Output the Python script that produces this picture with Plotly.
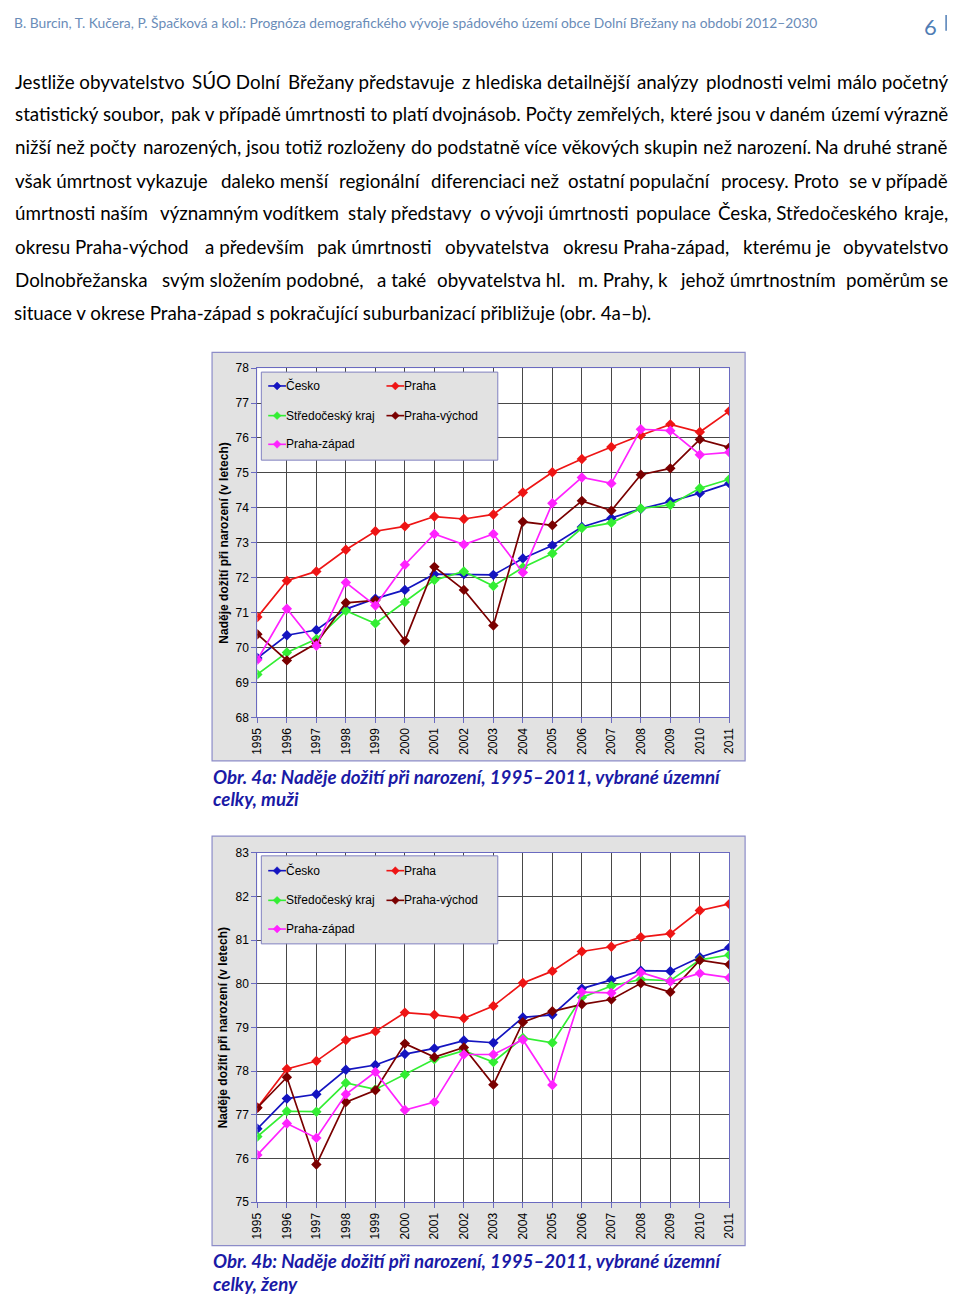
import unicodedata
import plotly.graph_objects as go

# page body has an 8px margin, so the figure is 8px smaller on each axis
OFF = 8
W, H = 960 - OFF, 1306 - OFF

years = list(range(1995, 2012))

# naděje dožití při narození - muži
cesko_m = [69.70, 70.35, 70.50, 71.10, 71.40, 71.65, 72.10, 72.10, 72.08, 72.55, 72.92, 73.45, 73.70, 73.97, 74.18, 74.42, 74.70]
praha_m = [70.87, 71.91, 72.18, 72.80, 73.33, 73.47, 73.75, 73.68, 73.81, 74.44, 75.02, 75.40, 75.74, 76.08, 76.39, 76.17, 76.77]
stc_m = [69.23, 69.86, 70.24, 71.05, 70.69, 71.30, 71.93, 72.18, 71.76, 72.29, 72.69, 73.42, 73.57, 73.98, 74.08, 74.56, 74.82]
pv_m = [70.38, 69.63, 70.12, 71.28, 71.35, 70.19, 72.31, 71.65, 70.63, 73.60, 73.50, 74.20, 73.92, 74.95, 75.13, 75.96, 75.73]
pz_m = [69.65, 71.11, 70.05, 71.86, 71.20, 72.37, 73.25, 72.95, 73.25, 72.15, 74.13, 74.87, 74.70, 76.25, 76.21, 75.52, 75.59]

# naděje dožití při narození - ženy
cesko_f = [76.68, 77.37, 77.47, 78.03, 78.14, 78.39, 78.52, 78.70, 78.65, 79.23, 79.29, 79.89, 80.09, 80.30, 80.29, 80.61, 80.83]
praha_f = [77.16, 78.05, 78.23, 78.71, 78.91, 79.34, 79.29, 79.21, 79.49, 80.02, 80.29, 80.74, 80.85, 81.07, 81.15, 81.68, 81.83]
stc_f = [76.50, 77.08, 77.07, 77.73, 77.58, 77.92, 78.27, 78.47, 78.21, 78.76, 78.65, 79.69, 79.95, 80.10, 80.07, 80.55, 80.66]
pv_f = [77.16, 77.86, 75.86, 77.29, 77.56, 78.63, 78.32, 78.54, 77.69, 79.12, 79.37, 79.53, 79.64, 80.01, 79.81, 80.54, 80.44]
pz_f = [76.08, 76.80, 76.47, 77.47, 77.98, 77.11, 77.29, 78.38, 78.38, 78.72, 77.68, 79.81, 79.79, 80.26, 80.05, 80.24, 80.14]

series_names = ["Česko", "Praha", "Středočeský kraj", "Praha-východ", "Praha-západ"]
series_colors = ["#1414c0", "#ee1515", "#33ee33", "#7a0000", "#ff22ff"]

header = ("B. Burcin, T. Kučera, P. Špačková a kol.: Prognóza demografického vývoje "
          "spádového území obce Dolní Břežany na období 2012–2030")
body_lines = [
    "Jestliže obyvatelstvo SÚO Dolní Břežany představuje z hlediska detailnější analýzy plodnosti velmi málo početný",
    "statistický soubor, pak v případě úmrtnosti to platí dvojnásob. Počty zemřelých, které jsou v daném území výrazně",
    "nižší než počty narozených, jsou totiž rozloženy do podstatně více věkových skupin než narození. Na druhé straně",
    "však úmrtnost vykazuje daleko menší regionální diferenciaci než ostatní populační procesy. Proto se v případě",
    "úmrtnosti naším významným vodítkem staly představy o vývoji úmrtnosti populace Česka, Středočeského kraje,",
    "okresu Praha-východ a především pak úmrtnosti obyvatelstva okresu Praha-západ, kterému je obyvatelstvo",
    "Dolnobřežanska svým složením podobné, a také obyvatelstva hl. m. Prahy, k jehož úmrtnostním poměrům se",
    "situace v okrese Praha-západ s pokračující suburbanizací přibližuje (obr. 4a–b).",
]
caption_a = ["Obr. 4a: Naděje dožití při narození, 1995–2011, vybrané územní", "celky, muži"]
caption_b = ["Obr. 4b: Naděje dožití při narození, 1995–2011, vybrané územní", "celky, ženy"]
ytitle = "Naděje dožití při narození (v letech)"


def px(x):
    return (x - OFF) / W


def py(y):
    return 1 - (y - OFF) / H


# rough Lato advance widths (em) used only to spread justified text
CHAR_EM = {
    "a": .51, "b": .56, "c": .47, "d": .56, "e": .52, "f": .33, "g": .50, "h": .56, "i": .25,
    "j": .25, "k": .51, "l": .25, "m": .84, "n": .56, "o": .56, "p": .56, "q": .56, "r": .37,
    "s": .43, "t": .35, "u": .56, "v": .51, "w": .77, "x": .50, "y": .51, "z": .46,
    " ": .26, ".": .23, ",": .23, "-": .36, "(": .30, ")": .30, "–": .56,
    "S": .52, "U": .72, "O": .77, "D": .73, "B": .64, "P": .60, "N": .74, "C": .66, "J": .39,
}


def text_width(s, size):
    w = 0
    for ch in s:
        base = unicodedata.normalize("NFD", ch)[0]
        if base in CHAR_EM:
            w += CHAR_EM[base]
        elif base.isdigit():
            w += .58
        elif base.isupper():
            w += .66
        else:
            w += .52
    return w * size * 1.03


TEXT_FONT = "Lato, 'Open Sans', sans-serif"
CHART_FONT = "Arial, 'Liberation Sans', sans-serif"

fig = go.Figure()

charts = [
    ([cesko_m, praha_m, stc_m, pv_m, pz_m], ""),
    ([cesko_f, praha_f, stc_f, pv_f, pz_f], "2"),
]
for vals, ax in charts:
    for name, col, ys in zip(series_names, series_colors, vals):
        fig.add_trace(go.Scatter(
            x=years, y=ys, name=name, mode="lines+markers",
            line=dict(color=col, width=1.7),
            marker=dict(symbol="diamond", size=8, color=col),
            xaxis="x" + ax, yaxis="y" + ax, showlegend=False,
        ))

# chart geometry (page pixels)
plot_x = (254, 733)
box_x = (208, 749)
chart_geo = [
    dict(ptop=365, pbot=718, btop=349, bbot=762, rng=[68, 78], ltop=369, lbot=458, rows=[383, 413, 442]),
    dict(ptop=855, pbot=1208, btop=838, bbot=1252, rng=[75, 83], ltop=858, lbot=947, rows=[873, 903, 932]),
]

axis_common = dict(
    showline=True, linecolor="#6a6ac0", linewidth=1, mirror=True,
    showgrid=True, gridcolor="#484848", gridwidth=1, zeroline=False,
    ticks="outside", ticklen=5, tickcolor="#6a6ac0",
    tickfont=dict(family=CHART_FONT, size=12, color="black"),
)

shapes = []
annotations = []
layout_axes = {}
legend_slots = [(0, 0), (0, 1), (1, 0), (1, 1), (2, 0)]
legend_cols = [265, 385]
for k, g in enumerate(chart_geo):
    sfx = "" if k == 0 else "2"
    layout_axes["xaxis" + sfx] = dict(
        axis_common, domain=[px(plot_x[0]), px(plot_x[1])], range=[1995, 2011],
        dtick=1, tickangle=-90, anchor="y" + sfx,
    )
    layout_axes["yaxis" + sfx] = dict(
        axis_common, domain=[py(g["pbot"]), py(g["ptop"])], range=g["rng"],
        dtick=1, anchor="x" + sfx,
    )
    # grey chart box + white plot area
    shapes.append(dict(type="rect", xref="paper", yref="paper", layer="below",
                       x0=px(box_x[0]), x1=px(box_x[1]), y0=py(g["bbot"]), y1=py(g["btop"]),
                       fillcolor="#e2e2e2", line=dict(color="#8c8cc8", width=1.2)))
    shapes.append(dict(type="rect", xref="paper", yref="paper", layer="below",
                       x0=px(plot_x[0]), x1=px(plot_x[1]), y0=py(g["pbot"]), y1=py(g["ptop"]),
                       fillcolor="white", line=dict(width=0)))
    # legend box with samples
    shapes.append(dict(type="rect", xref="paper", yref="paper", layer="above",
                       x0=px(258), x1=px(498), y0=py(g["lbot"]), y1=py(g["ltop"]),
                       fillcolor="#e2e2e2", line=dict(color="#8080c0", width=1)))
    for (r, c), name, col in zip(legend_slots, series_names, series_colors):
        lx, ly = legend_cols[c], g["rows"][r]
        shapes.append(dict(type="line", xref="paper", yref="paper", layer="above",
                           x0=px(lx), x1=px(lx + 18), y0=py(ly), y1=py(ly),
                           line=dict(color=col, width=1.6)))
        cx, d = lx + 9, 4
        path = (f"M {px(cx)},{py(ly - d)} L {px(cx + d)},{py(ly)} "
                f"L {px(cx)},{py(ly + d)} L {px(cx - d)},{py(ly)} Z")
        shapes.append(dict(type="path", xref="paper", yref="paper", layer="above",
                           path=path, fillcolor=col, line=dict(color=col, width=0.5)))
        annotations.append(dict(x=px(lx + 16), y=py(ly), xref="paper", yref="paper",
                                text=name, showarrow=False, xanchor="left", yanchor="middle",
                                font=dict(family=CHART_FONT, size=12, color="black")))
    # y axis title
    annotations.append(dict(
        x=px(220), y=py((g["ptop"] + g["pbot"]) / 2), xref="paper", yref="paper",
        text="<b>" + ytitle + "</b>", textangle=-90, showarrow=False,
        xanchor="center", yanchor="middle",
        font=dict(family=CHART_FONT, size=12, color="black"),
    ))

# header (top edge of the page is the top of the figure)
annotations.append(dict(x=0, y=1, xref="paper", yref="paper", text=header,
                        showarrow=False, xanchor="left", yanchor="top", xshift=-3, yshift=3,
                        font=dict(family=TEXT_FONT, size=13.8, color="#6a8cb8")))
annotations.append(dict(x=px(946), y=1, xref="paper", yref="paper", text="6",
                        showarrow=False, xanchor="right", yanchor="top", yshift=4,
                        font=dict(family=TEXT_FONT, size=22, color="#4f7db5")))
shapes.append(dict(type="line", xref="paper", yref="paper",
                   x0=px(953), x1=px(953), y0=py(24), y1=1,
                   line=dict(color="#4f7db5", width=1.5)))

# body text, justified: chunks of words spread between both edges
line_y = [75, 108, 141, 175, 208, 242, 275, 309]
text_left, text_right = OFF + 1, 957
body_size = 18.8
body_font = dict(family=TEXT_FONT, size=body_size, color="black")
n_chunks = 7
for i, (line, yy) in enumerate(zip(body_lines, line_y)):
    if i == len(body_lines) - 1:
        annotations.append(dict(x=0, y=py(yy), xref="paper", yref="paper", text=line,
                                showarrow=False, xanchor="left", yanchor="middle", xshift=-3,
                                font=body_font))
        continue
    words = line.split(" ")
    total = len(line)
    pos, starts = 0, []
    for w in words:
        starts.append(pos)
        pos += len(w) + 1
    cuts = [0]
    for q in range(1, n_chunks):
        j = next(j for j, s in enumerate(starts) if s >= q * total / n_chunks)
        cuts.append(max(j, cuts[-1] + 1))
    cuts.append(len(words))
    chunks = [" ".join(words[cuts[q]:cuts[q + 1]]) for q in range(n_chunks)]
    chunks = [c for c in chunks if c]
    nc = len(chunks)
    widths = [text_width(c, body_size) for c in chunks]
    gap = (text_right - text_left - sum(widths)) / (nc - 1)
    x = text_left
    for q, (txt, wd) in enumerate(zip(chunks, widths)):
        if q == 0:
            xx, anc, sh = text_left, "left", -3
        elif q == nc - 1:
            xx, anc, sh = text_right, "right", 0
        else:
            xx, anc, sh = x + wd / 2, "center", 0
        annotations.append(dict(x=px(xx), y=py(yy), xref="paper", yref="paper", text=txt,
                                showarrow=False, xanchor=anc, yanchor="middle", xshift=sh,
                                font=body_font))
        x += wd + gap

# captions
cap_font = dict(family=TEXT_FONT, size=18.7, color="#1a1aa6")
for cap, ys in [(caption_a, [778, 801]), (caption_b, [1268, 1291])]:
    for txt, yy in zip(cap, ys):
        annotations.append(dict(x=px(207), y=py(yy), xref="paper", yref="paper",
                                text="<b><i>" + txt + "</i></b>", showarrow=False,
                                xanchor="left", yanchor="middle", font=cap_font))

fig.update_layout(
    width=W, height=H, autosize=False,
    margin=dict(l=0, r=0, t=0, b=0),
    paper_bgcolor="white", plot_bgcolor="rgba(0,0,0,0)",
    shapes=shapes, annotations=annotations, showlegend=False,
    **layout_axes,
)

fig.write_html("out.html")
